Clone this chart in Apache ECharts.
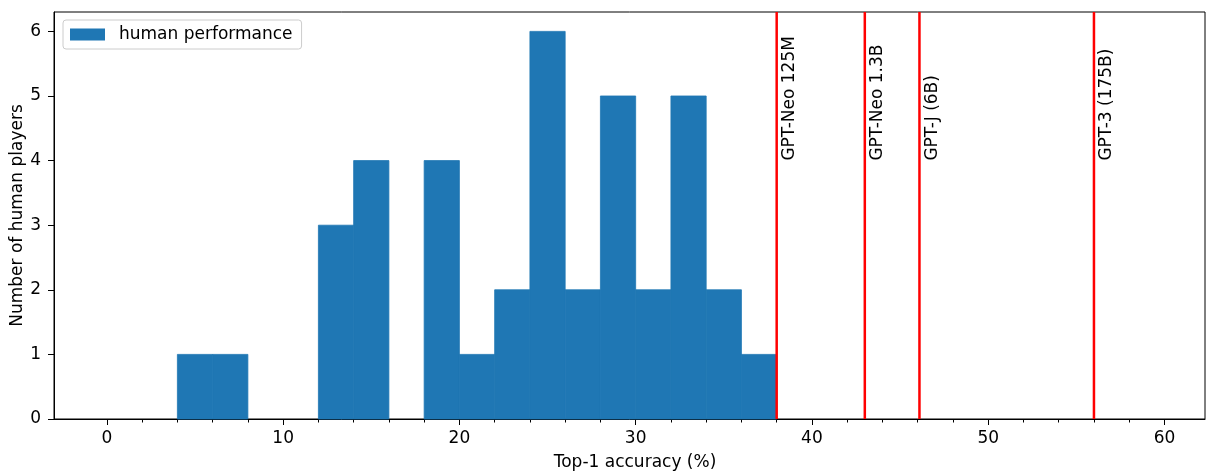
<!DOCTYPE html>
<html>
<head>
<meta charset="utf-8">
<script src="https://cdn.jsdelivr.net/npm/echarts@6/dist/echarts.min.js"></script>
<style>
html,body{margin:0;padding:0;background:#fff;}
#chart{width:1206px;height:471px;}
</style>
</head>
<body>
<div id="chart"></div>
<script>
// Histogram bins (left edges, right edges) and counts
const binStarts = [4, 6, 8, 10, 12, 14, 16, 18, 20, 22, 24, 26, 28, 30, 32, 34, 36];
const binEnds   = [6, 8, 10, 12, 14, 16, 18, 20, 22, 24, 26, 28, 30, 32, 34, 36, 38];
const binCounts = [1, 1, 0, 0, 3, 4, 0, 4, 1, 2, 6, 2, 5, 2, 5, 2, 1];

// Model reference lines
const modelNames = ['GPT-Neo 125M', 'GPT-Neo 1.3B', 'GPT-J (6B)', 'GPT-3 (175B)'];
const modelAccuracy = [38.0, 43.0, 46.1, 56.0];

// Tick labels
const xTicks = [0, 10, 20, 30, 40, 50, 60];
const xMinorTicks = [2, 4, 6, 8, 12, 14, 16, 18, 22, 24, 26, 28, 32, 34, 36, 38, 42, 44, 46, 48, 52, 54, 56, 58];
const yTicks = [0, 1, 2, 3, 4, 5, 6];

const X_MIN = -3, X_MAX = 62.3, Y_MIN = 0, Y_MAX = 6.3;
const LABEL_Y = 4, LABEL_DX = 0.25;
const FONT = 'DejaVu Sans';

const histData = binStarts.map((s, i) => [s, binEnds[i], binCounts[i]]);
const lineData = modelAccuracy.map((a, i) => [a, modelNames[i]]);

const chart = echarts.init(document.getElementById('chart'), null, {renderer: 'canvas'});
chart.setOption({
  animation: false,
  backgroundColor: '#fff',
  grid: {left: 54, right: 1, top: 12, bottom: 52, containLabel: false, outerBoundsMode: 'none',
         show: true, borderColor: '#000', borderWidth: 1, backgroundColor: 'transparent'},
  legend: {
    data: ['human performance'],
    left: 63, top: 20,
    icon: 'rect', itemWidth: 35, itemHeight: 12,
    padding: [6, 9, 6, 7],
    borderColor: '#cccccc', borderWidth: 1, borderRadius: 3,
    backgroundColor: 'rgba(255,255,255,0.8)',
    textStyle: {fontFamily: FONT, fontSize: 17, color: '#000', padding: [0, 0, 0, 9]}
  },
  xAxis: [{
    type: 'value', min: X_MIN, max: X_MAX,
    name: 'Top-1 accuracy (%)', nameLocation: 'middle', nameGap: 35, nameMoveOverlap: false,
    nameTextStyle: {fontFamily: FONT, fontSize: 17, color: '#000', padding: [0, 0, 0, 11]},
    axisLine: {show: true, onZero: false, lineStyle: {color: '#000', width: 1}},
    axisTick: {show: true, customValues: xTicks, length: 6, lineStyle: {color: '#000', width: 1}},
    axisLabel: {customValues: xTicks, fontFamily: FONT, fontSize: 17, color: '#000', margin: 11},
    splitLine: {show: false}
  }, {
    type: 'value', min: X_MIN, max: X_MAX, position: 'bottom', gridIndex: 0,
    axisLine: {show: false, onZero: false},
    axisTick: {show: true, customValues: xMinorTicks, length: 3.5, lineStyle: {color: '#000', width: 1}},
    axisLabel: {show: false},
    splitLine: {show: false}
  }],
  yAxis: {
    type: 'value', min: Y_MIN, max: Y_MAX,
    name: 'Number of human players', nameLocation: 'middle', nameGap: 28, nameMoveOverlap: false,
    nameTextStyle: {fontFamily: FONT, fontSize: 17, color: '#000'},
    axisLine: {show: true, onZero: false, lineStyle: {color: '#000', width: 1}},
    axisTick: {show: true, customValues: yTicks, length: 6, lineStyle: {color: '#000', width: 1}},
    axisLabel: {customValues: yTicks, fontFamily: FONT, fontSize: 17, color: '#000', margin: 13},
    splitLine: {show: false}
  },
  series: [{
    name: 'human performance',
    type: 'custom',
    xAxisIndex: 0,
    itemStyle: {color: '#1f77b4'},
    encode: {x: [0, 1], y: 2},
    data: histData,
    renderItem: function (params, api) {
      const p0 = api.coord([api.value(0), 0]);
      const p1 = api.coord([api.value(1), api.value(2)]);
      return {
        type: 'rect',
        shape: {x: p0[0], y: p1[1], width: p1[0] - p0[0], height: p0[1] - p1[1]},
        style: {fill: '#1f77b4', stroke: api.value(2) > 0 ? '#1f77b4' : null, lineWidth: 0.8}
      };
    }
  }, {
    name: 'models',
    type: 'custom',
    xAxisIndex: 0,
    encode: {x: 0},
    data: lineData,
    z: 5,
    renderItem: function (params, api) {
      const x = api.value(0);
      const name = lineData[params.dataIndex][1];
      const b = api.coord([x, Y_MIN]);
      const t = api.coord([x, Y_MAX]);
      const lp = api.coord([x + LABEL_DX, LABEL_Y]);
      return {
        type: 'group',
        children: [{
          type: 'line',
          shape: {x1: b[0], y1: b[1], x2: t[0], y2: t[1]},
          style: {stroke: '#ff0000', lineWidth: 2.5}
        }, {
          type: 'text',
          x: lp[0], y: lp[1],
          rotation: Math.PI / 2,
          style: {text: name, fill: '#000', font: '17px "DejaVu Sans"', textAlign: 'left', textVerticalAlign: 'top'}
        }]
      };
    }
  }]
});
</script>
</body>
</html>
